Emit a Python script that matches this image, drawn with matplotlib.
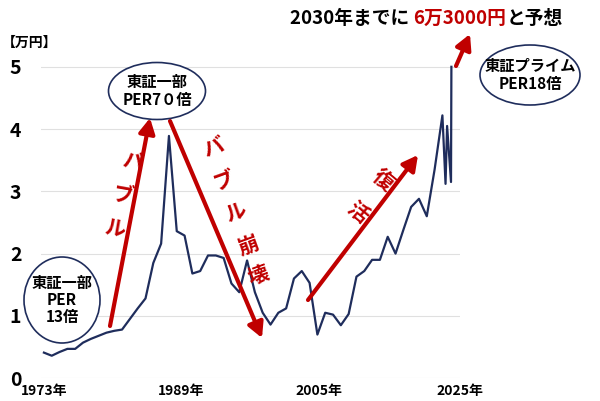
import matplotlib
matplotlib.use("Agg")
import matplotlib.pyplot as plt
from matplotlib.patches import Ellipse, FancyArrowPatch

plt.rcParams['font.family'] = ['Noto Sans CJK JP', 'DejaVu Sans']

years = list(range(1973, 2025)) + [2024.4, 2024.6, 2025.1, 2025.15]
values = [0.41, 0.36, 0.42, 0.47, 0.47, 0.57, 0.63, 0.68, 0.73, 0.76, 0.78,
          0.95, 1.12, 1.28, 1.85, 2.16, 3.89, 2.36, 2.29, 1.68, 1.72, 1.97,
          1.97, 1.93, 1.52, 1.38, 1.89, 1.38, 1.05, 0.86, 1.05, 1.12, 1.6,
          1.72, 1.53, 0.7, 1.05, 1.02, 0.85, 1.03, 1.63, 1.72, 1.9, 1.9,
          2.27, 2.0, 2.38, 2.75, 2.88, 2.6, 3.35, 4.22,
          3.12, 4.05, 3.15, 5.0]
xtick_pos = [1973, 1990.6, 2008.2, 2026.2]
xticklabels = ["1973年", "1989年", "2005年", "2025年"]
yticks = [0, 1, 2, 3, 4, 5]

RED = '#c00000'
NAVY = '#1f2d5c'

fig = plt.figure(figsize=(6, 4.01), dpi=100)
ax = fig.add_axes([0.068, 0.057, 0.698, 0.823])
ax.plot(years, values, color=NAVY, lw=1.6)
ax.set_xlim(1972.6, 2025.9 - 1.2)
ax.set_ylim(0, 5.3)
ax.set_yticks(yticks)
ax.set_yticklabels([str(v) for v in yticks], fontsize=14, fontweight='bold')
ax.set_xticks(xtick_pos)
ax.set_xticklabels(xticklabels, fontsize=10, fontweight='bold')
ax.tick_params(axis='x', length=0, pad=4)
ax.tick_params(axis='y', length=0, pad=14)
ax.grid(axis='y', color='#e0e0e0', lw=0.8)
for s in ax.spines.values():
    s.set_visible(False)

def F(x, y):
    return (x / 600, 1 - y / 401)

def arrow(p0, p1):
    fig.add_artist(FancyArrowPatch(
        F(*p0), F(*p1), transform=fig.transFigure,
        arrowstyle='-|>,head_length=6,head_width=3.2', color=RED, lw=3,
        shrinkA=0, shrinkB=0, mutation_scale=1.5))

arrow((110, 326), (150, 118))
arrow((170, 121), (262, 338))
arrow((308, 300), (418, 155))
arrow((456, 66), (470, 34))

def chars(items, rot):
    for ch, x, y in items:
        fig.text(*F(x, y), ch, color=RED, fontsize=15, fontweight='bold',
                 ha='center', va='center', rotation=rot)

chars([('バ', 133, 162), ('ブ', 123, 195), ('ル', 115, 228)], -10)
chars([('バ', 214, 148), ('ブ', 224, 180), ('ル', 235, 212), ('崩', 248, 245), ('壊', 259, 276)], 20)
chars([('復', 383, 180), ('活', 358, 212)], -40)

def ell(cx, cy, w, h):
    fig.add_artist(Ellipse(F(cx, cy), w / 600, h / 401, transform=fig.transFigure,
                           facecolor='white', edgecolor=NAVY, lw=1.2))

ell(62, 300, 76, 86)
fig.text(*F(62, 300), "東証一部\nPER\n13倍", ha='center', va='center',
         fontsize=11, fontweight='bold', linespacing=1.1)
ell(157, 91, 97, 57)
fig.text(*F(157, 91), "東証一部\nPER7０倍", ha='center', va='center',
         fontsize=11, fontweight='bold', linespacing=1.2)
ell(530, 75, 100, 60)
fig.text(*F(530, 75), "東証プライム\nPER18倍", ha='center', va='center',
         fontsize=11, fontweight='bold', linespacing=1.2)

fig.text(*F(2, 43), "【万円】", ha='left', va='center', fontsize=10, fontweight='bold')

y0 = 1 - 18 / 401
t1 = fig.text(290 / 600, y0, "2030年までに ", ha='left', va='center', fontsize=13.5, fontweight='bold')
fig.canvas.draw()
t2 = fig.text(t1.get_window_extent().x1 / 600, y0, "6万3000円", ha='left', va='center',
              fontsize=13.5, fontweight='bold', color=RED)
fig.canvas.draw()
fig.text(t2.get_window_extent().x1 / 600, y0, "と予想", ha='left', va='center',
         fontsize=13.5, fontweight='bold')

fig.savefig('out.png', dpi=100)
